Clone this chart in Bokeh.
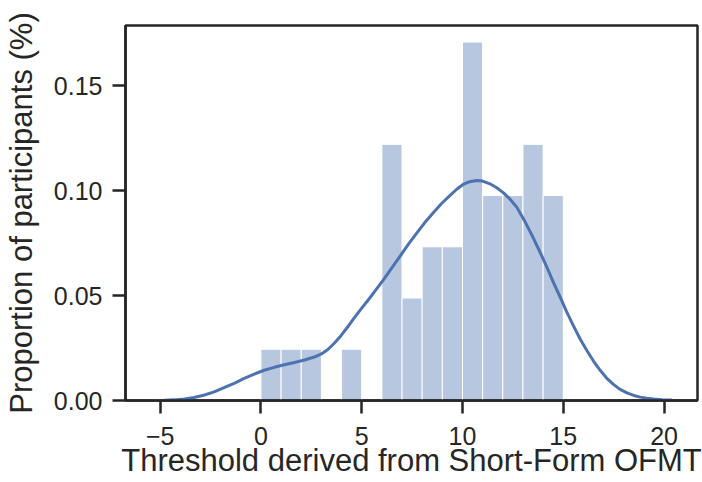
from bokeh.plotting import figure
from bokeh.models import Range1d, FixedTicker
from bokeh.embed import file_html
from bokeh.resources import INLINE

# Histogram (density, bin width 1)
bin_left = [0, 1, 2, 4, 6, 7, 8, 9, 10, 11, 12, 13, 14]
bin_right = [1, 2, 3, 5, 7, 8, 9, 10, 11, 12, 13, 14, 15]
proportion = [0.0244, 0.0244, 0.0244, 0.0244, 0.1220, 0.0488, 0.0732,
              0.0732, 0.1707, 0.0976, 0.0976, 0.1220, 0.0976]

# KDE curve
kde_x = [-5.5, -4.8, -4.31, -3.8, -3.32, -2.8, -2.32, -1.83, -1.33, -0.83,
         -0.33, 0.16, 0.66, 1.16, 1.66, 2.16, 2.65, 3.0, 3.32, 3.65, 3.98,
         4.3, 4.6, 5.0, 5.39, 5.7, 6.05, 6.45, 6.88, 7.3, 7.71, 8.1, 8.54,
         8.95, 9.37, 9.7, 10.03, 10.36, 10.69, 11.0, 11.36, 11.7, 12.02,
         12.35, 12.69, 13.1, 13.51, 13.85, 14.18, 14.5, 14.84, 15.17, 15.5,
         15.83, 16.17, 16.5, 16.83, 17.15, 17.49, 17.8, 18.16, 18.5, 18.82,
         19.15, 19.48, 19.9, 20.4]
kde_y = [0.0, 0.0001, 0.0003, 0.0007, 0.0014, 0.0026, 0.0041, 0.0061,
         0.0082, 0.0105, 0.0126, 0.0144, 0.0158, 0.0170, 0.0181, 0.0193,
         0.0207, 0.0222, 0.0243, 0.0274, 0.0310, 0.0350, 0.0390, 0.0440,
         0.0487, 0.0527, 0.0571, 0.0626, 0.0684, 0.0742, 0.0795, 0.0844,
         0.0893, 0.0937, 0.0976, 0.1005, 0.1029, 0.1042, 0.1048, 0.1045,
         0.1032, 0.1013, 0.0990, 0.0960, 0.0921, 0.0852, 0.0775, 0.0706,
         0.0636, 0.0565, 0.0493, 0.0422, 0.0357, 0.0294, 0.0238, 0.0188,
         0.0144, 0.0107, 0.0077, 0.0054, 0.0036, 0.0024, 0.0016, 0.0011,
         0.0007, 0.0004, 0.0002]

x_ticks = [-5, 0, 5, 10, 15, 20]
x_tick_labels = ["\u22125", "0", "5", "10", "15", "20"]
y_ticks = [0.0, 0.05, 0.10, 0.15]
y_tick_labels = ["0.00", "0.05", "0.10", "0.15"]

x_label = "Threshold derived from Short-Form OFMT"
y_label = "Proportion of participants (%)"

BLUE = "#4C72B0"
INK = "#262626"
FONT = "Liberation Sans"

p = figure(width=702, height=482, output_backend="svg", toolbar_location=None,
           x_range=Range1d(-6.72, 21.66), y_range=Range1d(0, 0.1786),
           min_border_left=125, min_border_right=5, min_border_top=25,
           min_border_bottom=82)

p.quad(left=bin_left, right=bin_right, top=proportion, bottom=0,
       fill_color=BLUE, fill_alpha=0.4, line_color="white", line_width=1)
p.line(kde_x, kde_y, line_color=BLUE, line_width=3, line_join="round")

p.xgrid.visible = False
p.ygrid.visible = False
p.outline_line_color = INK
p.outline_line_width = 2.5
p.outline_line_alpha = 1.0
p.background_fill_color = "white"
p.border_fill_color = "white"

for ax in (p.xaxis[0], p.yaxis[0]):
    ax.axis_line_color = INK
    ax.axis_line_width = 2.5
    ax.major_tick_line_color = INK
    ax.major_tick_line_width = 2.5
    ax.major_tick_out = 13
    ax.major_tick_in = 0
    ax.minor_tick_line_color = None
    ax.major_label_text_font = FONT
    ax.major_label_text_font_size = "25px"
    ax.major_label_text_color = INK
    ax.axis_label_text_font = FONT
    ax.axis_label_text_font_size = "31px"
    ax.axis_label_text_font_style = "normal"
    ax.axis_label_text_color = INK

p.xaxis.ticker = FixedTicker(ticks=x_ticks)
p.xaxis.major_label_overrides = dict(zip(x_ticks, x_tick_labels))
p.xaxis.axis_label = x_label
p.xaxis.major_label_standoff = 13
p.xaxis.axis_label_standoff = -5

p.yaxis.ticker = FixedTicker(ticks=y_ticks)
p.yaxis.major_label_overrides = dict(zip(y_ticks, y_tick_labels))
p.yaxis.axis_label = y_label
p.yaxis.major_label_standoff = 10
p.yaxis.axis_label_standoff = 12

open("out.html", "w").write(file_html(p, INLINE))
